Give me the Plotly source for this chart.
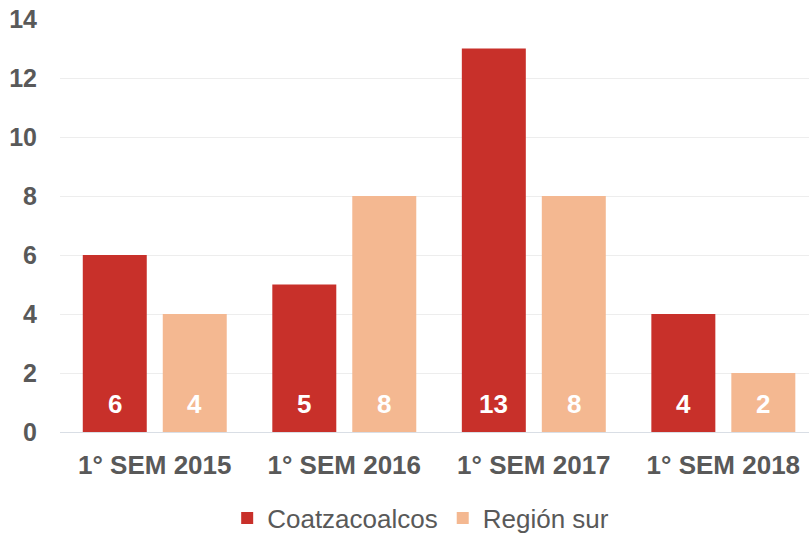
import plotly.graph_objects as go

categories = ["1° SEM 2015", "1° SEM 2016", "1° SEM 2017", "1° SEM 2018"]
coatzacoalcos = [6, 5, 13, 4]
region_sur = [4, 8, 8, 2]
y_ticks = [0, 2, 4, 6, 8, 10, 12, 14]

RED = "#C8302A"
PEACH = "#F4B891"
GRAY = "#595959"
FONT = "Liberation Sans, Arial, sans-serif"

W, H = 809, 533
M_L, M_R, M_T, M_B = 60, 0, 19, 101
BARGAP, BARGROUPGAP = 0.156, 0.2
X_RANGE = [-0.5, 3.452]  # last group sits close to the right edge

fig = go.Figure()
series = [("Coatzacoalcos", coatzacoalcos, RED), ("Región sur", region_sur, PEACH)]
for name, vals, color in series:
    fig.add_trace(go.Bar(
        x=categories, y=vals, name=name,
        marker=dict(color=color, line=dict(width=0)),
        hoverinfo="x+y+name",
    ))

# value labels near the base of each bar, shifted to the bar's slot in its group
cat_px = (W - M_L - M_R) / (X_RANGE[1] - X_RANGE[0])
slot_px = cat_px * (1 - BARGAP) / len(series)
for k, (name, vals, color) in enumerate(series):
    shift = (k - (len(series) - 1) / 2) * slot_px
    for cat, v in zip(categories, vals):
        fig.add_annotation(
            x=cat, y=0.95, xref="x", yref="y", text=f"<b>{v}</b>",
            showarrow=False, xshift=shift, yanchor="middle",
            font=dict(color="white", size=26, family=FONT),
        )

fig.update_layout(
    width=W, height=H,
    margin=dict(l=M_L, r=M_R, t=M_T, b=M_B),
    paper_bgcolor="white", plot_bgcolor="white",
    barmode="group", bargap=BARGAP, bargroupgap=BARGROUPGAP,
    font=dict(family=FONT, color=GRAY),
    showlegend=True,
    legend=dict(orientation="h", x=0.52, xanchor="center", xref="container",
                y=0.028, yanchor="middle", yref="container",
                font=dict(size=26, color=GRAY), traceorder="normal",
                itemwidth=30),
    xaxis=dict(range=X_RANGE, showgrid=False, showline=True, linecolor="#D9DEE5",
               linewidth=1, ticks="",
               tickfont=dict(size=26, color=GRAY, family=FONT, weight="bold"),
               ticklabelstandoff=10),
    yaxis=dict(range=[0, 14], tickvals=y_ticks, showgrid=True, gridcolor="#EDEDED",
               gridwidth=1, zeroline=False, showline=False, ticks="",
               tickfont=dict(size=25, color=GRAY, family=FONT, weight="bold"),
               ticklabelstandoff=22),
)

fig.write_html("out.html")
